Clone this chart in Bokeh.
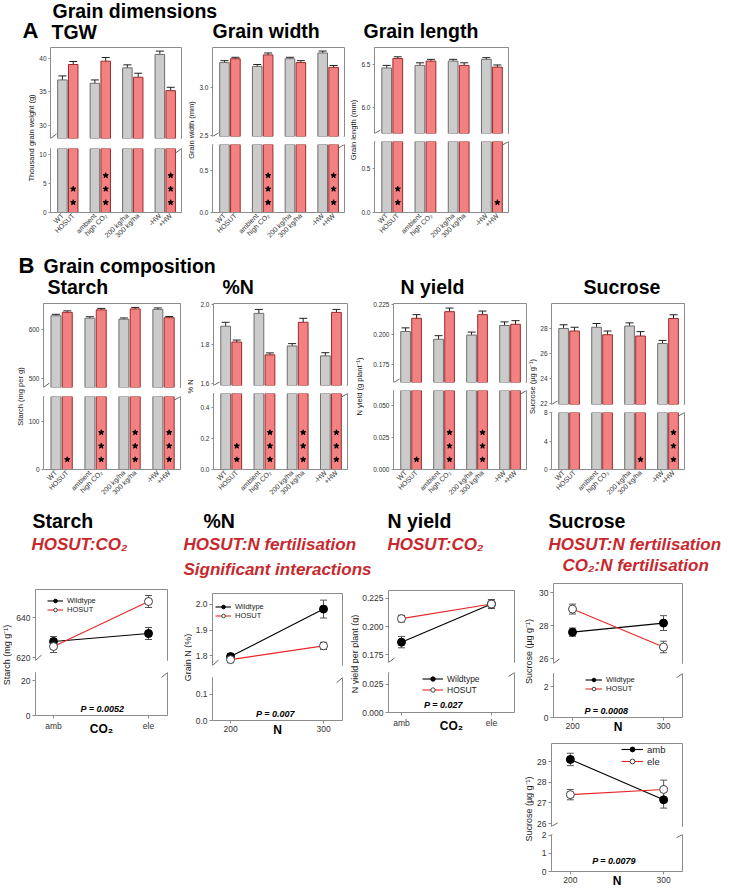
import math
from bokeh.plotting import figure
from bokeh.models import (Range1d, FixedTicker, PrintfTickFormatter, LinearAxis, Spacer,
                          ColumnDataSource, Whisker, TeeHead, Legend, LegendItem, Arrow)
from bokeh.layouts import row, column
from bokeh.core.properties import value
from bokeh.embed import file_html
from bokeh.resources import INLINE

FONT = "Liberation Sans"
FRAME = "#8c8c8c"
TXT = "#333333"
GREY_F, GREY_L = "#cbcbcb", "#6e6e6e"
RED_F, RED_L = "#f38181", "#9a2c2c"
INT_RED = "#c8282d"
LINE_RED = "#e8262a"

# ---------------- data ----------------
bar_labels = ["WT", "HOSUT", "ambient", "high CO₂", "200 kg/ha", "300 kg/ha", "-HW", "+HW"]

tgw_grey = [36.8, 36.3, 38.6, 40.6]
tgw_grey_err = [0.6, 0.5, 0.45, 0.5]
tgw_red = [39.1, 39.6, 37.2, 35.2]
tgw_red_err = [0.45, 0.55, 0.6, 0.5]
tgw_stars = [2, 3, 0, 3]

gw_grey = [3.26, 3.22, 3.30, 3.36]
gw_grey_err = [0.02, 0.02, 0.015, 0.02]
gw_red = [3.30, 3.34, 3.26, 3.21]
gw_red_err = [0.015, 0.02, 0.02, 0.02]
gw_stars = [0, 3, 0, 3]

gl_grey = [6.46, 6.49, 6.54, 6.56]
gl_grey_err = [0.03, 0.03, 0.02, 0.02]
gl_red = [6.57, 6.54, 6.49, 6.47]
gl_red_err = [0.02, 0.02, 0.03, 0.025]
gl_stars = [2, 0, 0, 1]

st_grey = [628, 623, 621, 641]
st_grey_err = [3, 3, 2.5, 3]
st_red = [635, 640, 642, 624]
st_red_err = [3, 3, 3, 2.5]
st_stars = [1, 3, 3, 3]

pn_grey = [1.89, 1.955, 1.79, 1.74]
pn_grey_err = [0.02, 0.02, 0.012, 0.016]
pn_red = [1.81, 1.745, 1.91, 1.96]
pn_red_err = [0.01, 0.01, 0.02, 0.015]
pn_stars = [2, 3, 3, 3]

ny_grey = [0.2025, 0.196, 0.1995, 0.2075]
ny_grey_err = [0.003, 0.003, 0.0025, 0.003]
ny_red = [0.2135, 0.219, 0.2165, 0.2085]
ny_red_err = [0.003, 0.003, 0.003, 0.003]
ny_stars = [1, 3, 3, 0]

su_grey = [28.0, 28.1, 28.2, 26.8]
su_grey_err = [0.3, 0.3, 0.25, 0.25]
su_red = [27.8, 27.5, 27.4, 28.8]
su_red_err = [0.3, 0.3, 0.35, 0.3]
su_stars = [0, 0, 1, 3]

co2_levels = ["amb", "ele"]
n_levels = [200, 300]
geno_names = ["Wildtype", "HOSUT"]
co2_names = ["amb", "ele"]

lp_st_wt = [628, 632]
lp_st_wt_err = [2.5, 3]
lp_st_ho = [625.5, 648]
lp_st_ho_err = [3, 3]

lp_pn_wt = [1.796, 1.982]
lp_pn_wt_err = [0.012, 0.035]
lp_pn_ho = [1.784, 1.838]
lp_pn_ho_err = [0.012, 0.014]

lp_ny_wt = [0.186, 0.220]
lp_ny_wt_err = [0.005, 0.004]
lp_ny_ho = [0.207, 0.220]
lp_ny_ho_err = [0.003, 0.004]

lp_su_wt = [27.6, 28.15]
lp_su_wt_err = [0.25, 0.45]
lp_su_ho = [29.0, 26.7]
lp_su_ho_err = [0.3, 0.35]

lp_su2_amb = [29.1, 27.15]
lp_su2_amb_err = [0.3, 0.4]
lp_su2_ele = [27.4, 27.65]
lp_su2_ele_err = [0.25, 0.45]

STAR_PX = [10, 23.5, 37]


# ---------------- helpers ----------------
def new_fig(w, h, xr, yr, bl=0, br=0, bt=0, bb=0):
    p = figure(width=w, height=h, x_range=xr, y_range=yr, toolbar_location=None,
               output_backend="svg", x_axis_location=None, y_axis_location=None,
               min_border_left=bl, min_border_right=br, min_border_top=bt, min_border_bottom=bb,
               outline_line_color=None, background_fill_color="white",
               border_fill_color="white", title=None)
    p.xgrid.visible = False
    p.ygrid.visible = False
    return p


def mk_axis(ticks, fmt=None, overrides=None, fs="6.5px", tick_out=3, standoff=2,
            orient=None, tick_color=FRAME):
    has = len(ticks) > 0
    ax = LinearAxis(ticker=FixedTicker(ticks=list(ticks)), axis_line_color=FRAME, axis_line_width=1,
                    major_tick_line_color=tick_color if has else None,
                    major_tick_out=tick_out if has else 0, major_tick_in=0,
                    minor_tick_line_color=None, minor_tick_out=0, minor_tick_in=0,
                    major_label_standoff=standoff if has else 0,
                    major_label_text_font=FONT, major_label_text_font_size=fs,
                    major_label_text_color=TXT)
    if fmt:
        ax.formatter = PrintfTickFormatter(format=fmt)
    if overrides:
        ax.major_label_overrides = overrides
    if orient is not None:
        ax.major_label_orientation = orient
    return ax


def add_breaks(p, xr, yval, fw, fh, yr_span, half_h):
    """Diagonal break marks centred on the frame's left and right edges at y=yval."""
    dx = 6 * (xr.end - xr.start) / fw
    dy = half_h * yr_span / fh
    for e in (xr.start, xr.end):
        p.add_layout(Arrow(x_start=e - dx, y_start=yval - dy, x_end=e + dx, y_end=yval + dy,
                           start=None, end=None, line_color="#666666", line_width=1))


def strip_fig(w, h, text, fs, yc):
    p = new_fig(w, h, Range1d(0, w), Range1d(0, h))
    p.text(x=[w / 2], y=[h - yc], text=[text], angle=math.pi / 2, text_align="center",
           text_baseline="middle", text_font=value(FONT), text_font_size=fs, text_color="#222222")
    return p


def split_pair(c, xr):
    BL, FW, BR, bt, bb = c["BL"], c["FW"], c["BR"], c["bt"], c["bb"]
    uh, gh, lh = c["uh"], c["gh"], c["lh"]
    ub = (gh + 1) // 2
    lb = gh - ub
    W = BL + FW + BR
    up = new_fig(W, bt + uh + ub, xr, Range1d(c["u0"], c["u1"]), BL, BR, bt, ub)
    lo = new_fig(W, lb + lh + bb, xr, Range1d(0, c["l1"]), BL, BR, lb, bb)
    add_breaks(up, xr, c["u0"], FW, uh, c["u1"] - c["u0"], ub - 0.5)
    add_breaks(lo, xr, c["l1"], FW, lh, c["l1"], max(lb, 3) - 0.5)
    return up, lo, W


def bar_panel(c, grey, grey_err, red, red_err, stars, up_ticks, lo_ticks, fmt, ylabel, label_dy=0):
    xr = Range1d(-1.1, 11.0)
    up, lo, W = split_pair(c, xr)
    n = len(grey)
    xg = [3 * i for i in range(n)]
    xs = [3 * i + 1 for i in range(n)]
    for p in (up, lo):
        p.vbar(x=xg, top=grey, bottom=0, width=0.88, fill_color=GREY_F, line_color=GREY_L, line_width=1)
        p.vbar(x=xs, top=red, bottom=0, width=0.88, fill_color=RED_F, line_color=RED_L, line_width=1)
    vals = grey + red
    errs = grey_err + red_err
    src = ColumnDataSource(dict(x=xg + xs, hi=[v + e for v, e in zip(vals, errs)],
                                lo=[v - e for v, e in zip(vals, errs)]))
    up.add_layout(Whisker(source=src, base="x", upper="hi", lower="lo", line_color="#222222",
                          line_width=1, upper_head=TeeHead(size=8, line_color="#222222", line_width=1),
                          lower_head=TeeHead(size=8, line_color="#222222", line_width=1)))
    ppu = c["l1"] / c["lh"]
    sx, sy = [], []
    for i, k in enumerate(stars):
        for j in range(k):
            sx.append(xs[i])
            sy.append(STAR_PX[j] * ppu)
    lo.scatter(x=sx, y=sy, marker="star", size=5.5, fill_color="black", line_color="black")
    up.add_layout(mk_axis(up_ticks, fmt, tick_out=2), "left")
    up.add_layout(mk_axis([]), "right")
    up.add_layout(mk_axis([]), "above")
    lo.add_layout(mk_axis(lo_ticks, fmt, tick_out=2), "left")
    lo.add_layout(mk_axis([]), "right")
    pos = []
    for a, b in zip(xg, xs):
        pos += [a, b]
    lo.add_layout(mk_axis(pos, overrides={p_: l_ for p_, l_ in zip(pos, bar_labels)}, fs="7px",
                          tick_out=0, standoff=2, orient=math.pi / 4, tick_color=None), "below")
    sw = c["sw"]
    frames = c["uh"] + c["gh"] + c["lh"]
    st = strip_fig(sw, c["bt"] + frames, ylabel, "7.5px", c["bt"] + frames / 2 + label_dy)
    return row(st, column(up, lo)), sw + W


def line_panel(c, xv, xover, sA, eA, sB, eB, names, up_ticks, lo_ticks, fmt, xfmt,
               ylabel, xlabel, ptxt, leg):
    xr = Range1d(c["x0"], c["x1"])
    up, lo, W = split_pair(c, xr)
    items = {}
    for p in (up, lo):
        lA = p.line(x=xv, y=sA, line_color="black", line_width=1.1)
        lB = p.line(x=xv, y=sB, line_color=LINE_RED, line_width=1.1)
        if p is up:
            for s, e in ((sA, eA), (sB, eB)):
                src = ColumnDataSource(dict(x=xv, hi=[v + d for v, d in zip(s, e)],
                                            lo=[v - d for v, d in zip(s, e)]))
                p.add_layout(Whisker(source=src, base="x", upper="hi", lower="lo",
                                     line_color="#555555", line_width=1,
                                     upper_head=TeeHead(size=7, line_color="#555555", line_width=1),
                                     lower_head=TeeHead(size=7, line_color="#555555", line_width=1)))
        cA = p.scatter(x=xv, y=sA, marker="circle", size=8, fill_color="black", line_color="black")
        cB = p.scatter(x=xv, y=sB, marker="circle", size=8, fill_color="white", line_color="#404040",
                       line_width=1)
        items[p] = [LegendItem(label=names[0], renderers=[lA, cA]),
                    LegendItem(label=names[1], renderers=[lB, cB])]
    tgt = up if leg["where"] == "up" else lo
    lg = Legend(items=items[tgt], location=leg["loc"], border_line_color=None,
                background_fill_alpha=0, label_text_font=FONT, label_text_font_size=leg["fs"],
                label_text_color="#222222", glyph_width=leg["gw"], glyph_height=leg["rh"],
                label_height=leg["rh"], spacing=0, padding=0, margin=0, label_standoff=4)
    tgt.add_layout(lg)
    up.add_layout(mk_axis(up_ticks, fmt, fs="8.5px", tick_out=3), "left")
    up.add_layout(mk_axis([]), "right")
    up.add_layout(mk_axis([]), "above")
    lo.add_layout(mk_axis(lo_ticks, fmt, fs="8.5px", tick_out=3), "left")
    lo.add_layout(mk_axis([]), "right")
    bx = mk_axis(xv, xfmt, overrides=xover, fs="8.5px", tick_out=3, standoff=2)
    bx.axis_label = xlabel
    bx.axis_label_text_font = FONT
    bx.axis_label_text_font_style = "bold"
    bx.axis_label_text_font_size = "12px"
    bx.axis_label_text_color = "black"
    bx.axis_label_standoff = -12
    lo.add_layout(bx, "below")
    ppu_x = c["FW"] / (c["x1"] - c["x0"])
    px = c["x0"] + (c["px"] - c["fl"]) / ppu_x
    py = c["py"] * c["l1"] / c["lh"]
    lo.text(x=[px], y=[py], text=[ptxt], text_align="center", text_baseline="middle",
            text_font=value(FONT), text_font_size="9px", text_font_style="bold italic",
            text_color="black")
    sw = c["sw"]
    frames = c["uh"] + c["gh"] + c["lh"]
    st = strip_fig(sw, c["bt"] + frames, ylabel, "9px", c["bt"] + frames / 2)
    return row(st, column(up, lo)), sw + W


def header(y_top, y_bot, texts):
    # texts: (x, baseline y, text, font px, style, colour) in page pixels
    p = new_fig(729, y_bot - y_top, Range1d(0, 729), Range1d(y_bot, y_top))
    for (x, b, t, fs, style, color) in texts:
        p.text(x=[x], y=[b - 0.35 * fs], text=[t], text_font=value(FONT), text_font_size=f"{fs}px",
               text_font_style=style, text_color=color, text_baseline="alphabetic", text_align="left")
    return p


def hrow(items, x0=0):
    kids = []
    cur = x0
    for x, w, el in items:
        if x > cur:
            kids.append(Spacer(width=x - cur, height=1))
        kids.append(el)
        cur = x + w
    return row(*kids)


def vshift(el, dy):
    if dy > 0:
        return column(Spacer(height=dy, width=1), el)
    return el


# ---------------- Panel A ----------------
hA = header(0, 45, [
    (52, 17, "Grain dimensions", 19.5, "bold", "black"),
    (22, 38, "A", 22, "bold", "black"),
    (51, 38, "TGW", 19.5, "bold", "black"),
    (212, 37, "Grain width", 19.5, "bold", "black"),
    (363, 37, "Grain length", 19.5, "bold", "black"),
])

cA1 = dict(sw=10, BL=13, FW=132, BR=5, bt=2, bb=38, uh=91, gh=10, lh=64, u0=28.06, u1=41.64, l1=11.0)
cA2 = dict(sw=10, BL=16, FW=132, BR=4, bt=2, bb=38, uh=89, gh=8, lh=68, u0=2.49, u1=3.417, l1=0.81)
cA3 = dict(sw=10, BL=15, FW=135, BR=5, bt=2, bb=38, uh=86, gh=8, lh=71, u0=5.698, u1=6.698, l1=0.807)

pA1, wA1 = bar_panel(cA1, tgw_grey, tgw_grey_err, tgw_red, tgw_red_err, tgw_stars,
                     [30, 35, 40], [0, 5, 10], "%d", "Thousand grain weight (g)", label_dy=8)
pA2, wA2 = bar_panel(cA2, gw_grey, gw_grey_err, gw_red, gw_red_err, gw_stars,
                     [2.5, 3.0], [0.0, 0.5], "%.1f", "Grain width (mm)")
pA3, wA3 = bar_panel(cA3, gl_grey, gl_grey_err, gl_red, gl_red_err, gl_stars,
                     [6.0, 6.5], [0.0, 0.5], "%.1f", "Grain length (mm)")
rowA = hrow([(26, wA1, pA1), (186, wA2, pA2), (348, wA3, pA3)])

# ---------------- Panel B ----------------
hB = header(250, 301, [
    (18, 273, "B", 22, "bold", "black"),
    (43, 272, "Grain composition", 19.5, "bold", "black"),
    (47, 293, "Starch", 19.5, "bold", "black"),
    (222, 293, "%N", 19.5, "bold", "black"),
    (400, 293, "N yield", 19.5, "bold", "black"),
    (583, 293, "Sucrose", 19.5, "bold", "black"),
])

cB1 = dict(sw=11, BL=18, FW=137, BR=4, bt=2, bb=36, uh=84, gh=9, lh=73, u0=481.6, u1=653, l1=152)
cB2 = dict(sw=10, BL=18, FW=134, BR=4, bt=2, bb=36, uh=82, gh=8, lh=76, u0=1.59, u1=2.005, l1=0.49)
cB3 = dict(sw=10, BL=29, FW=133, BR=1, bt=2, bb=36, uh=79, gh=8, lh=79, u0=0.160, u1=0.2258, l1=0.0617)
cB4 = dict(sw=10, BL=13, FW=134, BR=5, bt=2, bb=36, uh=101, gh=8, lh=57, u0=21.92, u1=30.0, l1=8.03)

pB1, wB1 = bar_panel(cB1, st_grey, st_grey_err, st_red, st_red_err, st_stars,
                     [500, 600], [0, 100], "%d", "Starch (mg per g)", label_dy=10)
pB2, wB2 = bar_panel(cB2, pn_grey, pn_grey_err, pn_red, pn_red_err, pn_stars,
                     [1.6, 1.8, 2.0], [0.0, 0.2, 0.4], "%.1f", "% N")
pB3, wB3 = bar_panel(cB3, ny_grey, ny_grey_err, ny_red, ny_red_err, ny_stars,
                     [0.175, 0.200, 0.225], [0.0, 0.025, 0.050], "%.3f", "N yield (g plant⁻¹)")
pB4, wB4 = bar_panel(cB4, su_grey, su_grey_err, su_red, su_red_err, su_stars,
                     [22, 24, 26, 28], [0, 4, 8], "%d", "Sucrose (µg g⁻¹)")
rowB = hrow([(14, wB1, pB1), (185, wB2, pB2), (354, wB3, pB3), (527, wB4, pB4)])

# ---------------- Interaction titles ----------------
hI = header(505, 581, [
    (32, 527, "Starch", 19.5, "bold", "black"),
    (31, 550, "HOSUT:CO₂", 17, "bold italic", INT_RED),
    (203, 527, "%N", 19.5, "bold", "black"),
    (183, 550, "HOSUT:N fertilisation", 17, "bold italic", INT_RED),
    (183, 575, "Significant interactions", 17, "bold italic", INT_RED),
    (387, 527, "N yield", 19.5, "bold", "black"),
    (387, 550, "HOSUT:CO₂", 17, "bold italic", INT_RED),
    (548, 527, "Sucrose", 19.5, "bold", "black"),
    (548, 550, "HOSUT:N fertilisation", 17, "bold italic", INT_RED),
    (562, 571, "CO₂:N fertilisation", 17, "bold italic", INT_RED),
])

# ---------------- Interaction line plots ----------------
xco2 = list(range(len(co2_levels)))
over_co2 = {i: s for i, s in enumerate(co2_levels)}

cC1 = dict(sw=12, BL=23, FW=132, BR=6, bt=2, bb=18, uh=71, gh=12, lh=48,
           x0=-0.19, x1=1.2, u0=618.5, u1=654, l1=24.6, fl=35, px=102, py=7)
cC2 = dict(sw=10, BL=20, FW=130, BR=6, bt=2, bb=18, uh=72, gh=12, lh=44,
           x0=180.6, x1=320.4, u0=1.761, u1=2.043, l1=0.163, fl=212, px=275, py=7)
cC3 = dict(sw=10, BL=29, FW=126, BR=6, bt=2, bb=18, uh=72, gh=10, lh=45,
           x0=-0.144, x1=1.256, u0=0.1679, u1=0.2321, l1=0.0352, fl=388, px=443, py=8)
cC4 = dict(sw=11, BL=19, FW=129, BR=6, bt=2, bb=17, uh=80, gh=10, lh=46,
           x0=179.1, x1=320.9, u0=25.7, u1=30.55, l1=2.88, fl=553, px=606, py=7)
cC5 = dict(sw=11, BL=16, FW=132, BR=6, bt=2, bb=16, uh=83, gh=8, lh=40,
           x0=179.8, x1=320.2, u0=25.86, u1=29.87, l1=2.05, fl=550, px=613, py=11)

pC1, wC1 = line_panel(cC1, xco2, over_co2, lp_st_wt, lp_st_wt_err, lp_st_ho, lp_st_ho_err,
                      geno_names, [620, 640], [0, 20], "%d", None, "Starch (mg g⁻¹)", "CO₂",
                      "P = 0.0052", dict(where="up", loc=(12, 46), fs="7.5px", gw=16, rh=9))
pC2, wC2 = line_panel(cC2, n_levels, None, lp_pn_wt, lp_pn_wt_err, lp_pn_ho, lp_pn_ho_err,
                      geno_names, [1.8, 1.9, 2.0], [0.0, 0.1], "%.1f", "%d", "Grain N (%)", "N",
                      "P = 0.007", dict(where="up", loc=(3, 45), fs="7.5px", gw=16, rh=9))
pC3, wC3 = line_panel(cC3, xco2, over_co2, lp_ny_wt, lp_ny_wt_err, lp_ny_ho, lp_ny_ho_err,
                      geno_names, [0.175, 0.200, 0.225], [0.0, 0.025], "%.3f", None,
                      "N yield per plant (g)", "CO₂", "P = 0.027",
                      dict(where="lo", loc=(34, 17), fs="8.5px", gw=21, rh=11))
pC4, wC4 = line_panel(cC4, n_levels, None, lp_su_wt, lp_su_wt_err, lp_su_ho, lp_su_ho_err,
                      geno_names, [26, 28, 30], [0, 2], "%d", "%d", "Sucrose (µg g⁻¹)", "N",
                      "P = 0.0008", dict(where="lo", loc=(32, 24), fs="7.5px", gw=17, rh=9))
pC5, wC5 = line_panel(cC5, n_levels, None, lp_su2_amb, lp_su2_amb_err, lp_su2_ele, lp_su2_ele_err,
                      co2_names, [26, 27, 28, 29], [0, 1, 2], "%d", "%d", "Sucrose (µg g⁻¹)", "N",
                      "P = 0.0079", dict(where="up", loc=(70, 59), fs="9.5px", gw=22, rh=12))

col4 = column(pC4, Spacer(height=5, width=1), pC5)
rowC = hrow([(0, wC1, vshift(pC1, 6)), (182, wC2, vshift(pC2, 10)),
             (349, wC3, vshift(pC3, 7)), (523, max(wC4, wC5), col4)])

layout = column(hA, rowA, hB, rowB, hI, rowC)

open("out.html", "w").write(file_html(layout, INLINE))
